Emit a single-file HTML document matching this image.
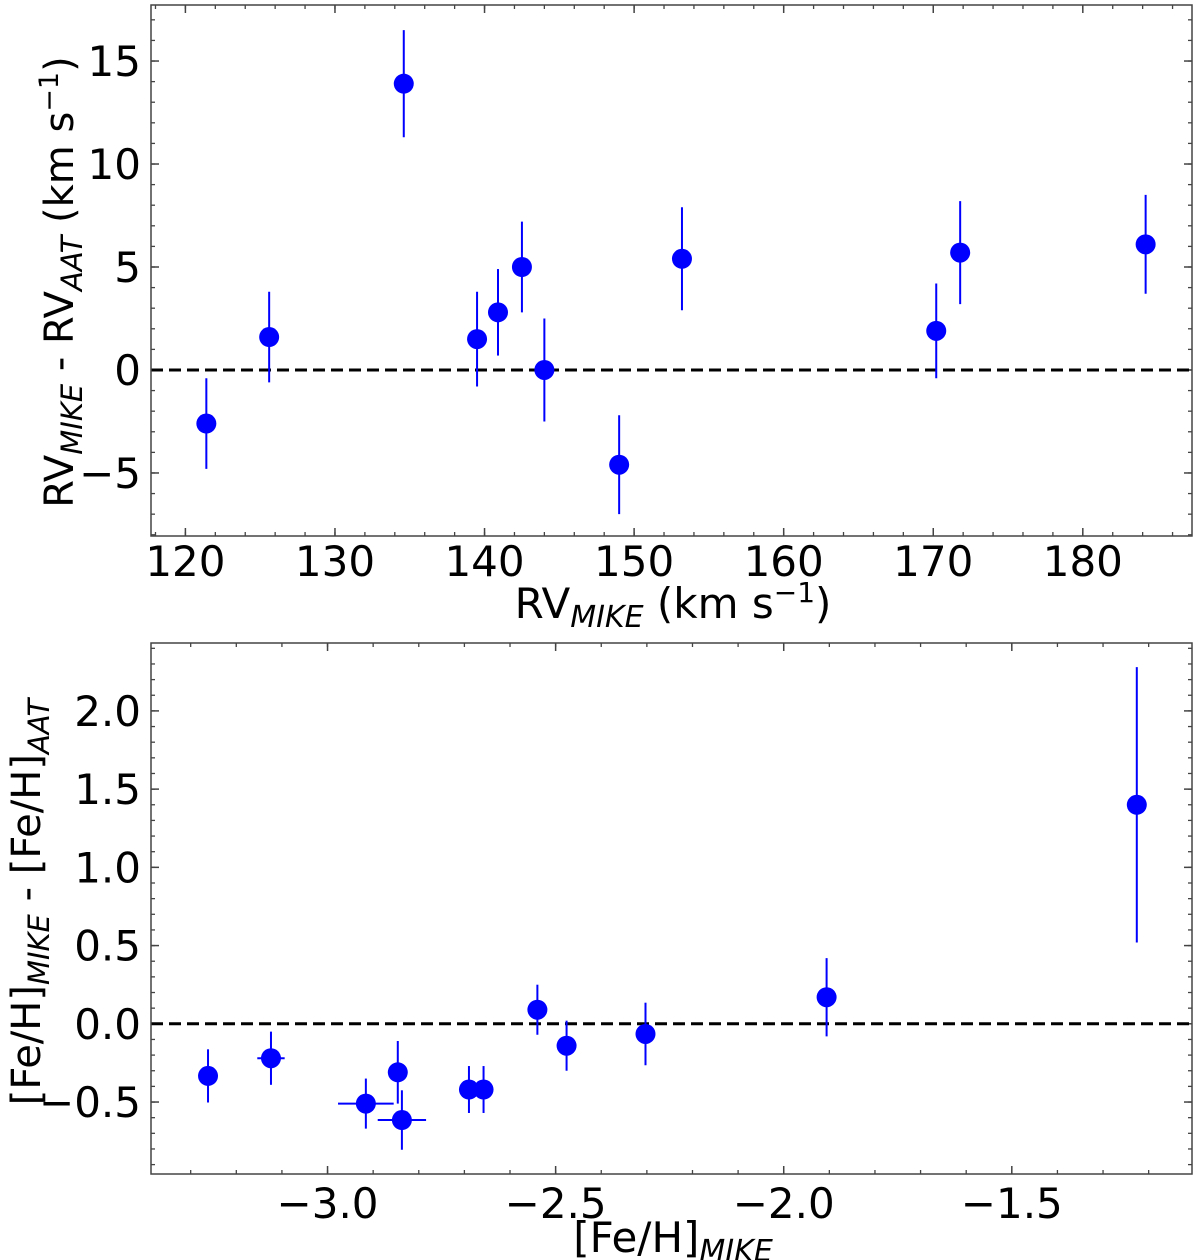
<!DOCTYPE html>
<html><head><meta charset="utf-8"><style>
body{margin:0;background:#fff}
svg{display:block;font-family:"DejaVu Sans","Liberation Sans",sans-serif}
</style></head><body>
<svg id="c" width="1200" height="1260" viewBox="0 0 1200 1260">
<g transform="translate(73,282) rotate(-90)">
<text x="0" y="0" text-anchor="middle" font-size="40" fill="#000">RV<tspan dy="9" font-size="29" font-style="italic">MIKE</tspan><tspan dy="-9"> - RV</tspan><tspan dy="9" font-size="29" font-style="italic">AAT</tspan><tspan dy="-9"> (km s</tspan><tspan dy="-15" font-size="27">−1</tspan><tspan dy="15">)</tspan></text>
</g>
<g transform="translate(40,902) rotate(-90)">
<text x="0" y="0" text-anchor="middle" font-size="40" fill="#000">[Fe/H]<tspan dy="9" font-size="29" font-style="italic">MIKE</tspan><tspan dy="-9"> - [Fe/H]</tspan><tspan dy="9" font-size="29" font-style="italic">AAT</tspan></text>
</g>
<text x="673" y="618" text-anchor="middle" font-size="42" fill="#000">RV<tspan dy="9" font-size="30" font-style="italic">MIKE</tspan><tspan dy="-9"> (km s</tspan><tspan dy="-16" font-size="28">−1</tspan><tspan dy="16">)</tspan></text>
<text x="673" y="1252" text-anchor="middle" font-size="42" fill="#000">[Fe/H]<tspan dy="9" font-size="30" font-style="italic">MIKE</tspan></text>
</svg>
<script>
const rvX=[121.4,125.6,134.6,139.5,140.9,142.5,144.0,149.0,153.2,170.2,171.8,184.2];
const rvY=[-2.6,1.6,13.9,1.5,2.8,5.0,0.0,-4.6,5.4,1.9,5.7,6.1];
const rvYerr=[2.2,2.2,2.6,2.3,2.1,2.2,2.5,2.4,2.5,2.3,2.5,2.4];
const rvXerr=[0,0,0,0,0,0,0,0,0.5,0,0,0];
const rvXTicks=[120,130,140,150,160,170,180];
const rvYTicks=[-5,0,5,10,15];
const feX=[-3.262,-3.124,-2.916,-2.846,-2.837,-2.69,-2.658,-2.54,-2.476,-2.303,-1.906,-1.226];
const feY=[-0.333,-0.22,-0.51,-0.31,-0.615,-0.42,-0.42,0.09,-0.14,-0.065,0.17,1.40];
const feYerr=[0.17,0.17,0.16,0.2,0.19,0.15,0.15,0.16,0.16,0.2,0.25,0.88];
const feXerr=[0,0.03,0.061,0,0.053,0,0,0,0,0,0,0];
const feXTicks=[-3.0,-2.5,-2.0,-1.5];
const feYTicks=[-0.5,0.0,0.5,1.0,1.5,2.0];

const NS='http://www.w3.org/2000/svg';
const svg=document.getElementById('c');
function mk(t,a,p){const e=document.createElementNS(NS,t);for(const k in a)e.setAttribute(k,a[k]);(p||svg).appendChild(e);return e;}
function fmt(v,d){const s=Math.abs(v).toFixed(d);return (v<0?'\u2212':'')+s;}

function panel(o){
  const g=mk('g',{});
  
  
  const L=151,R=1192,T=o.top,B=o.bot;
  const sx=v=>L+(v-o.x0)/(o.x1-o.x0)*(R-L);
  const sy=v=>B-(v-o.y0)/(o.y1-o.y0)*(B-T);
  for(let v=Math.ceil(o.x0/o.xm)*o.xm;v<=o.x1;v+=o.xm){const x=sx(v);
    mk('line',{x1:x,x2:x,y1:B,y2:B-4,stroke:'#444','stroke-width':1.3},g);
    mk('line',{x1:x,x2:x,y1:T,y2:T+4,stroke:'#444','stroke-width':1.3},g);}
  for(let v=Math.ceil(o.y0/o.ym)*o.ym;v<=o.y1;v+=o.ym){const y=sy(v);
    mk('line',{x1:L,x2:L+4,y1:y,y2:y,stroke:'#444','stroke-width':1.3},g);
    mk('line',{x1:R,x2:R-4,y1:y,y2:y,stroke:'#444','stroke-width':1.3},g);}
  o.xt.forEach(v=>{const x=sx(v);
    mk('line',{x1:x,x2:x,y1:B,y2:B-8,stroke:'#444','stroke-width':1.5},g);
    mk('line',{x1:x,x2:x,y1:T,y2:T+8,stroke:'#444','stroke-width':1.5},g);
    const t=mk('text',{x:x,y:B+38+(o.xd?4:0)+2,'font-size':42,'text-anchor':'middle',fill:'#000'},g);t.textContent=fmt(v,o.xd);
    
    });
  o.yt.forEach(v=>{const y=sy(v);
    mk('line',{x1:L,x2:L+8,y1:y,y2:y,stroke:'#444','stroke-width':1.5},g);
    mk('line',{x1:R,x2:R-8,y1:y,y2:y,stroke:'#444','stroke-width':1.5},g);
    const t=mk('text',{x:L-10,y:y+15,'font-size':42,'text-anchor':'end',fill:'#000'},g);t.textContent=fmt(v,o.yd);
    
    });
  const z=mk('line',{x1:L,x2:R,y1:sy(0),y2:sy(0),stroke:'#000','stroke-width':3,'stroke-dasharray':'12,6'},g);
  
  
  o.X.forEach((xv,i)=>{const x=sx(xv),y=sy(o.Y[i]);
    mk('line',{x1:x,x2:x,y1:sy(o.Y[i]-o.YE[i]),y2:sy(o.Y[i]+o.YE[i]),stroke:'#0000ff','stroke-width':2},g);
    if(o.XE[i]>0)mk('line',{x1:sx(xv-o.XE[i]),x2:sx(xv+o.XE[i]),y1:y,y2:y,stroke:'#0000ff','stroke-width':2},g);
    const c=mk('circle',{cx:x,cy:y,r:10,fill:'#0000ff'},g);
    
    });
  const f=mk('rect',{x:L,y:T,width:R-L,height:B-T,fill:'none',stroke:'#444','stroke-width':1.5},g);
  
  
}
panel({name:'rv-panel',top:5,bot:536,x0:117.7,x1:187.3,y0:-8.06,y1:17.72,xm:2,ym:1,xt:rvXTicks,yt:rvYTicks,xd:0,yd:0,X:rvX,Y:rvY,YE:rvYerr,XE:rvXerr});
panel({name:'feh-panel',top:643,bot:1174,x0:-3.387,x1:-1.105,y0:-0.96,y1:2.434,xm:0.1,ym:0.1,xt:feXTicks,yt:feYTicks,xd:1,yd:1,X:feX,Y:feY,YE:feYerr,XE:feXerr});
</script>
</body></html>
